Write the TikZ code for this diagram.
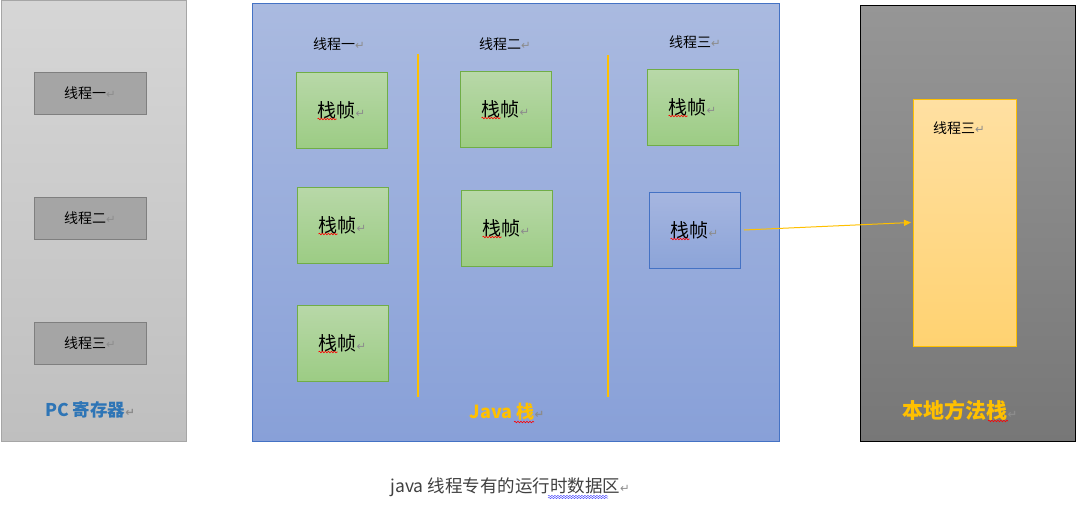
\documentclass[tikz,border=0pt]{standalone}
\usepackage{fontspec}
\setmainfont{Noto Sans CJK SC}
\newfontfamily\symfont{DejaVu Sans}
\usetikzlibrary{arrows.meta,decorations.pathmorphing,calc}
\definecolor{pctop}{HTML}{D6D6D6}
\definecolor{pcbot}{HTML}{BFBFBF}
\definecolor{pcborder}{HTML}{A6A6A6}
\definecolor{pcinner}{HTML}{A5A5A5}
\definecolor{pcinnerb}{HTML}{7F7F7F}
\definecolor{jtop}{HTML}{AABAE0}
\definecolor{jbot}{HTML}{88A0D8}
\definecolor{jborder}{HTML}{4472C4}
\definecolor{gtop}{HTML}{B8D8A8}
\definecolor{gbot}{HTML}{9CCC84}
\definecolor{gborder}{HTML}{70AD47}
\definecolor{btop}{HTML}{A6B6E0}
\definecolor{bbot}{HTML}{8CA4D8}
\definecolor{gold}{HTML}{FFC000}
\definecolor{ntop}{HTML}{969696}
\definecolor{nbot}{HTML}{777777}
\definecolor{ytop}{HTML}{FFE0A2}
\definecolor{ybot}{HTML}{FFD271}
\definecolor{pcblue}{HTML}{2E75B6}
\definecolor{retgray}{HTML}{8C8C8C}
\definecolor{captgray}{HTML}{404040}
\newcommand\ret{{\symfont\color{retgray}\fontsize{11.5}{11.5}\selectfont ↵}}
\begin{document}
\begin{tikzpicture}[x=1pt,y=-1pt,
  every node/.style={inner sep=0pt, outer sep=0pt},
  panel/.style={draw, line width=0.8pt, anchor=north west},
  pcbox/.style={draw=pcinnerb, fill=pcinner, line width=0.8pt, minimum width=112, minimum height=42, font=\fontsize{14}{14}\selectfont},
  frame/.style={draw=gborder, top color=gtop, bottom color=gbot, line width=0.8pt, minimum width=91, minimum height=76, font=\fontsize{19}{19}\selectfont},
  bframe/.style={draw=jborder, top color=btop, bottom color=bbot, line width=0.8pt, minimum width=91, minimum height=76, font=\fontsize{19}{19}\selectfont},
  head/.style={font=\fontsize{14}{14}\selectfont},
  sep/.style={draw=gold, line width=1.5pt},
  squig/.style={draw=red, line width=0.6pt, decorate, decoration={snake, amplitude=0.8pt, segment length=3pt}},
  blsquig/.style={draw=blue!70, line width=0.5pt, decorate, decoration={snake, amplitude=0.6pt, segment length=3pt}},
  conn/.style={draw=gold, line width=1pt, -{Triangle[length=7pt,width=6pt]}}
]
\useasboundingbox (0,0) rectangle (1076,509);
% PC register panel
\node[panel, draw=pcborder, top color=pctop, bottom color=pcbot, minimum width=185, minimum height=441] (pc) at (1,0) {};
\node[pcbox] (pc1) at (90,93) {线程一\ret};
\node[pcbox] (pc2) at (90,218) {线程二\ret};
\node[pcbox] (pc3) at (90,343) {线程三\ret};
\node[font=\fontsize{17.5}{17.5}\selectfont\bfseries, text=pcblue] (pclab) at (90,410) {PC 寄存器\ret};
% Java stack panel
\node[panel, draw=jborder, top color=jtop, bottom color=jbot, minimum width=527, minimum height=438] (java) at (252,3) {};
\node[head] (h1) at (339,44) {线程一\ret};
\node[head] (h2) at (505,44) {线程二\ret};
\node[head] (h3) at (695,42) {线程三\ret};
\draw[sep] (418,54) -- (418,397);
\draw[sep] (608,55) -- (608,397);
\node[frame] (f11) at (341.5,110) {栈帧\ret};
\node[frame] (f12) at (342.5,225) {栈帧\ret};
\node[frame] (f13) at (342.5,343) {栈帧\ret};
\node[frame] (f21) at (505.5,109) {栈帧\ret};
\node[frame] (f22) at (506.5,228) {栈帧\ret};
\node[frame] (f31) at (692.5,107) {栈帧\ret};
\node[bframe] (f32) at (694.5,230) {栈帧\ret};
\foreach \n in {f11,f12,f13,f21,f22,f31,f32}
  \draw[squig] ($(\n.center)+(-24,9)$) -- ($(\n.center)+(-5,9)$);
\node[font=\fontsize{18}{18}\selectfont\bfseries, text=gold] (jlab) at (507,412) {Java 栈\ret};
\draw[squig] ($(jlab.center)+(7,10)$) -- ($(jlab.center)+(27,10)$);
% Native method stack panel
\node[panel, draw=black, top color=ntop, bottom color=nbot, minimum width=215, minimum height=436] (nat) at (860,5) {};
\node[draw=gold, top color=ytop, bottom color=ybot, line width=0.8pt, minimum width=103, minimum height=247] (nbox) at (964.5,222.5) {};
\node[head] (nh) at (959,128) {线程三\ret};
\node[font=\fontsize{21}{21}\selectfont\bfseries, text=gold] (nlab) at (960,410) {本地方法栈\ret};
\draw[squig] ($(nlab.center)+(28,11)$) -- ($(nlab.center)+(48,11)$);
% connector
\draw[conn] ([xshift=4pt]f32.east) -- ([xshift=-2pt]nbox.west);
% caption
\node[font=\fontsize{17.5}{17.5}\selectfont, text=captgray] (cap) at (510,487) {java 线程专有的运行时数据区\ret};
\draw[blsquig] (548,496) -- (608,496);
\draw[blsquig] (548,498) -- (608,498);
\end{tikzpicture}
\end{document}
